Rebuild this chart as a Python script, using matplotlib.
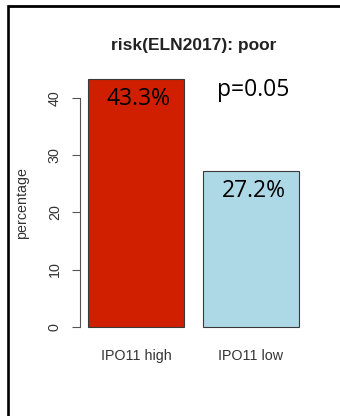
import matplotlib
matplotlib.use("Agg")
import matplotlib.pyplot as plt
from matplotlib.lines import Line2D

groups = ["IPO11 high", "IPO11 low"]
pct = [43.3, 27.2]
pvalue = "p=0.05"
yticks = [0, 10, 20, 30, 40]
bar_colors = ["#CF1F00", "#ADD8E6"]

plt.rcParams['font.family'] = ['Liberation Sans', 'DejaVu Sans']

fig = plt.figure(figsize=(3.4, 4.16), dpi=100)
ax = fig.add_axes([0.234, 0.191, 0.670, 0.642])

# barplot-style layout: width 1, space 0.2
xpos = [0.7, 1.9]
ax.bar(xpos, pct, width=1.0, color=bar_colors, edgecolor="#3a3a3a", linewidth=0.8)
ax.set_xlim(0.112, 2.488)
ax.set_ylim(-1.73, 45.03)

for x, v in zip(xpos, pct):
    ax.text(x + 0.025, v - 4.5, f"{v}%", ha="center", va="baseline",
            fontsize=16.5, family="Open Sans", color="black")
ax.text(xpos[1] + 0.025, 40.3, pvalue, ha="center", va="baseline",
        fontsize=16.5, family="Open Sans", color="black")

for s in ["top", "right", "bottom"]:
    ax.spines[s].set_visible(False)
ax.spines["left"].set_bounds(0, 40)
ax.spines["left"].set_color("#555555")
ax.spines["left"].set_linewidth(0.8)

ax.set_yticks(yticks)
ax.set_yticklabels([str(t) for t in yticks], rotation=90, va="center")
ax.tick_params(axis="y", length=5.8, width=0.8, color="#555555", pad=7,
               labelsize=10.3, labelcolor="#333333")
ax.set_xticks(xpos)
ax.set_xticklabels(groups)
ax.tick_params(axis="x", length=0, pad=9, labelsize=10.3, labelcolor="#333333")

ax.set_ylabel("percentage", fontsize=10.3, color="#333333")
ax.yaxis.set_label_coords(-0.253, 0.5)
ax.yaxis.label.set_va("center")

ax.set_title("risk(ELN2017): poor", fontsize=12.5, fontweight="bold",
             color="#222222", pad=14)

# outer frame: only top and left edges fall inside the image
fig.add_artist(Line2D([0.024, 1.0], [0.9844, 0.9844], transform=fig.transFigure,
                      color="black", linewidth=2.0, solid_capstyle="butt"))
fig.add_artist(Line2D([0.024, 0.024], [0.0, 0.9844], transform=fig.transFigure,
                      color="black", linewidth=1.9, solid_capstyle="projecting"))

fig.savefig("out.png", dpi=100)
